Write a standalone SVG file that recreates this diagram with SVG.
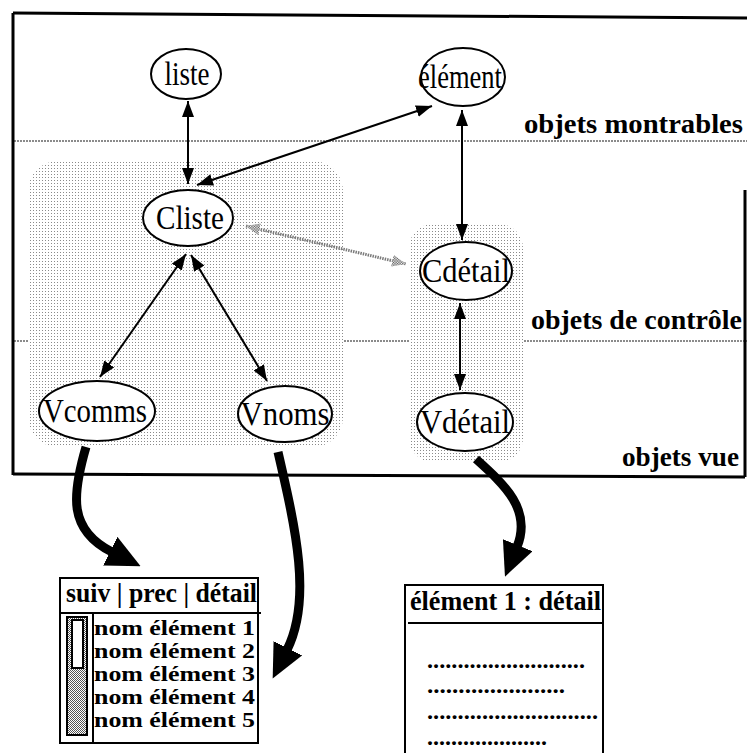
<svg xmlns="http://www.w3.org/2000/svg" width="747" height="753" viewBox="0 0 747 753">
  <defs>
    <style>
      .node ellipse { fill: #fff; stroke: #000; stroke-width: 2; }
      .lbl { font-family: "Liberation Serif", "Times New Roman", serif; font-size: 33px; fill: #000; text-anchor: middle; }
      .layer { font-family: "Liberation Serif", "Times New Roman", serif; font-size: 28px; font-weight: bold; fill: #000; }
      .bold { font-family: "Liberation Serif", "Times New Roman", serif; font-weight: bold; fill: #000; }
      .sep { stroke: #666; stroke-width: 1.6; stroke-dasharray: 2 1; fill: none; }
      .link { stroke: #000; stroke-width: 2; fill: none; marker-start: url(#head); marker-end: url(#head); }
      .soft { stroke: #7a7a7a; stroke-width: 3; stroke-dasharray: 1.5 1; fill: none; marker-start: url(#ghead); marker-end: url(#ghead); }
      .flow { stroke: #000; stroke-width: 9; fill: none; marker-end: url(#big); }
      .box { fill: #fff; stroke: #000; stroke-width: 2; }
    </style>
    <pattern id="stipple" width="3" height="3" patternUnits="userSpaceOnUse">
      <rect width="3" height="3" fill="#fff"/>
      <rect width="1" height="1" fill="#8a8a8a"/>
    </pattern>
    <pattern id="dense" width="2" height="2" patternUnits="userSpaceOnUse">
      <rect width="2" height="2" fill="#fff"/>
      <rect width="1" height="1" fill="#555"/>
      <rect x="1" y="1" width="1" height="1" fill="#555"/>
    </pattern>
    <marker id="head" viewBox="0 0 16 12" refX="16" refY="6" markerWidth="16" markerHeight="12" markerUnits="userSpaceOnUse" orient="auto-start-reverse">
      <path d="M0 0 L16 6 L0 12 Z" fill="#000"/>
    </marker>
    <marker id="ghead" viewBox="0 0 14 12" refX="14" refY="6" markerWidth="14" markerHeight="12" markerUnits="userSpaceOnUse" orient="auto-start-reverse">
      <path d="M0 0 L14 6 L0 12 Z" fill="url(#dense)"/>
    </marker>
    <marker id="big" viewBox="0 0 34 32" refX="2" refY="16" markerWidth="34" markerHeight="32" markerUnits="userSpaceOnUse" orient="auto">
      <path d="M0 0 L34 16 L0 32 Z" fill="#000"/>
    </marker>
  </defs>

  <rect width="747" height="753" fill="#fff"/>

  <!-- layer separators and their names -->
  <g id="layers">
    <line class="sep" x1="14" y1="141" x2="747" y2="141"/>
    <line class="sep" x1="14" y1="341" x2="747" y2="341"/>
    <text class="layer" x="524" y="133" textLength="219" lengthAdjust="spacingAndGlyphs">objets montrables</text>
    <text class="layer" x="531" y="329" textLength="211" lengthAdjust="spacingAndGlyphs">objets de contrôle</text>
    <text class="layer" x="622" y="466" textLength="117" lengthAdjust="spacingAndGlyphs">objets vue</text>
  </g>

  <!-- shaded groupings of control and view objects -->
  <g id="groups">
    <rect x="28" y="161" width="315" height="286" rx="30" fill="url(#stipple)"/>
    <rect x="409" y="224" width="114" height="238" rx="24" fill="url(#stipple)"/>
  </g>

  <!-- frame -->
  <g id="frame" fill="none" stroke="#000" stroke-width="3">
    <line x1="13" y1="13" x2="747" y2="18"/>
    <line x1="13" y1="13" x2="13" y2="475"/>
    <line x1="13" y1="474" x2="745" y2="477"/>
    <line x1="745" y1="190" x2="745" y2="477"/>
  </g>

  <!-- connectors -->
  <g id="connectors">
    <line class="link" x1="188" y1="101" x2="188" y2="184"/>
    <line class="link" x1="432" y1="106" x2="197" y2="185"/>
    <line class="link" x1="462" y1="110" x2="462" y2="240"/>
    <line class="link" x1="186" y1="254" x2="100" y2="377"/>
    <line class="link" x1="191" y1="255" x2="267" y2="381"/>
    <line class="link" x1="460" y1="303" x2="460" y2="390"/>
    <line class="soft" x1="246" y1="226" x2="406" y2="264"/>
    <path class="flow" d="M86 447 C72 495 68 530 112 552"/>
    <path class="flow" d="M278 452 C296 530 312 600 287 650"/>
    <path class="flow" d="M476 459 C505 485 532 510 517 547"/>
  </g>

  <!-- nodes -->
  <g id="liste" class="node">
    <ellipse cx="186" cy="74" rx="35" ry="25"/>
    <text class="lbl" x="187" y="85" textLength="45" lengthAdjust="spacingAndGlyphs">liste</text>
  </g>
  <g id="element" class="node">
    <ellipse cx="463" cy="77" rx="42" ry="29"/>
    <text class="lbl" x="460" y="88" textLength="84" lengthAdjust="spacingAndGlyphs">élément</text>
  </g>
  <g id="Cliste" class="node">
    <ellipse cx="188" cy="218" rx="45" ry="28"/>
    <text class="lbl" x="190" y="229" textLength="68" lengthAdjust="spacingAndGlyphs">Cliste</text>
  </g>
  <g id="Cdetail" class="node">
    <ellipse cx="466" cy="271" rx="46" ry="29"/>
    <text class="lbl" x="466" y="282" textLength="88" lengthAdjust="spacingAndGlyphs">Cdétail</text>
  </g>
  <g id="Vcomms" class="node">
    <ellipse cx="97" cy="411" rx="58" ry="30"/>
    <text class="lbl" x="95" y="422" textLength="104" lengthAdjust="spacingAndGlyphs">Vcomms</text>
  </g>
  <g id="Vnoms" class="node">
    <ellipse cx="285" cy="414" rx="47" ry="28"/>
    <text class="lbl" x="285" y="425" textLength="89" lengthAdjust="spacingAndGlyphs">Vnoms</text>
  </g>
  <g id="Vdetail" class="node">
    <ellipse cx="465" cy="422" rx="48" ry="29"/>
    <text class="lbl" x="465" y="433" textLength="90" lengthAdjust="spacingAndGlyphs">Vdétail</text>
  </g>

  <!-- list view window -->
  <g id="listView">
    <rect class="box" x="60" y="578" width="198" height="165"/>
    <text class="bold" x="66" y="602" font-size="27" textLength="191" lengthAdjust="spacingAndGlyphs">suiv | prec | détail</text>
    <line x1="60" y1="613" x2="261" y2="613" stroke="#000" stroke-width="2"/>
    <line x1="93" y1="613" x2="93" y2="743" stroke="#000" stroke-width="2"/>
    <rect x="67" y="617" width="20" height="118" fill="url(#dense)" stroke="#000" stroke-width="2"/>
    <rect x="72" y="620" width="11" height="48" fill="#fff" stroke="#000" stroke-width="2"/>
    <g class="bold" font-size="22">
      <text x="94" y="635" textLength="161" lengthAdjust="spacingAndGlyphs">nom élément 1</text>
      <text x="94" y="658" textLength="161" lengthAdjust="spacingAndGlyphs">nom élément 2</text>
      <text x="94" y="681" textLength="161" lengthAdjust="spacingAndGlyphs">nom élément 3</text>
      <text x="94" y="704" textLength="161" lengthAdjust="spacingAndGlyphs">nom élément 4</text>
      <text x="94" y="727" textLength="161" lengthAdjust="spacingAndGlyphs">nom élément 5</text>
    </g>
  </g>

  <!-- detail view window -->
  <g id="detailView">
    <rect class="box" x="405" y="585" width="198" height="180"/>
    <text class="bold" x="410" y="610" font-size="27" textLength="191" lengthAdjust="spacingAndGlyphs">élément 1 : détail</text>
    <line x1="408" y1="623" x2="603" y2="623" stroke="#000" stroke-width="2"/>
    <g class="bold" font-size="24">
      <text x="427" y="668" textLength="158" lengthAdjust="spacingAndGlyphs">..........................</text>
      <text x="427" y="693" textLength="138" lengthAdjust="spacingAndGlyphs">......................</text>
      <text x="427" y="719" textLength="171" lengthAdjust="spacingAndGlyphs">............................</text>
      <text x="427" y="745" textLength="120" lengthAdjust="spacingAndGlyphs">....................</text>
    </g>
  </g>
</svg>
